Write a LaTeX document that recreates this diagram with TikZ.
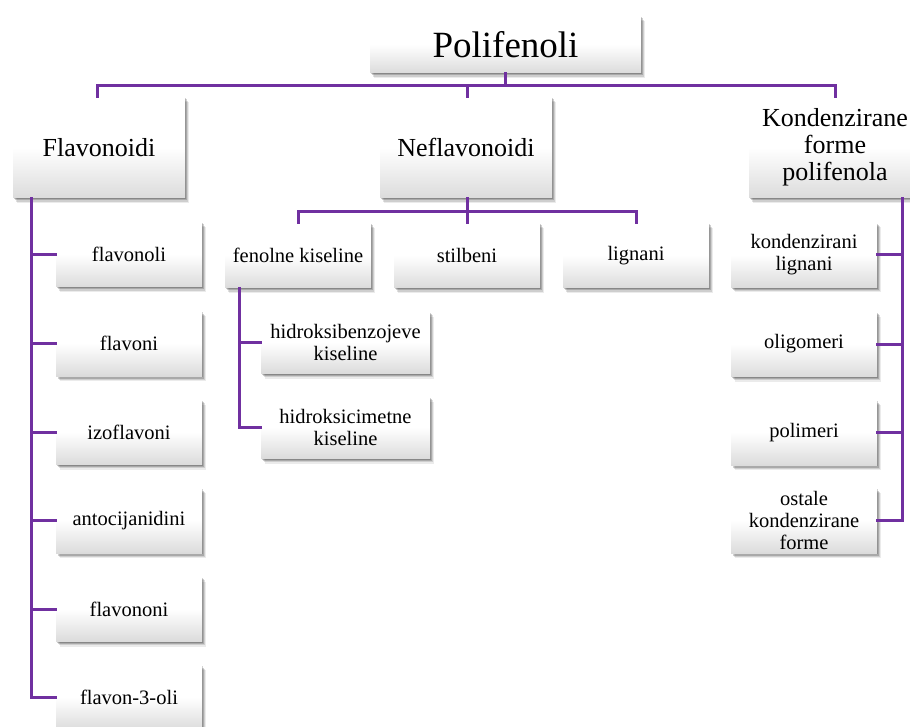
\documentclass[tikz,border=0pt]{standalone}
\usepackage{fontspec}
\setmainfont{Liberation Serif}
\usetikzlibrary{shadows}
\definecolor{lnpurple}{HTML}{7030A0}
\tikzset{
  box/.style={draw=none, top color=white, bottom color=black!14, middle color=white,
    drop shadow={shadow xshift=3.5pt, shadow yshift=-5pt, opacity=0.08, fill=black},
    drop shadow={shadow xshift=2.5pt, shadow yshift=-3.8pt, opacity=0.12, fill=black},
    drop shadow={shadow xshift=1.5pt, shadow yshift=-2.5pt, opacity=0.18, fill=black},
    drop shadow={shadow xshift=0.7pt, shadow yshift=-1.2pt, opacity=0.2, fill=black},
    inner sep=0pt, align=center, text=black},
  bigbox/.style={box, minimum width=271pt, minimum height=57pt, font=\fontsize{37}{40}\selectfont},
  midbox/.style={box, minimum width=172pt, minimum height=101pt, font=\fontsize{26}{27}\selectfont},
  smallbox/.style={box, minimum width=146pt, minimum height=65pt, font=\fontsize{20.5}{22}\selectfont},
  widebox/.style={smallbox, minimum width=169pt, minimum height=62pt},
  conn/.style={draw=lnpurple, line width=3pt, line cap=rect}
}
\begin{document}
\begin{tikzpicture}[x=1pt,y=-1pt]
\useasboundingbox (0,0) rectangle (910,727);
% nodes
\node[bigbox] (root) at (505.5,44.5) {Polifenoli};
\node[midbox] (flav) at (99,147.5) {Flavonoidi};
\node[midbox] (nefl) at (466,147.5) {Neflavonoidi};
\node[midbox] (kond) at (835,147.5) {Kondenzirane\\forme\\polifenola};

\node[smallbox] (f1) at (129,254.5) {flavonoli};
\node[smallbox] (f2) at (129,343.5) {flavoni};
\node[smallbox] (f3) at (129,432) {izoflavoni};
\node[smallbox] (f4) at (129,520.5) {antocijanidini};
\node[smallbox] (f5) at (129,609) {flavononi};
\node[smallbox] (f6) at (129,697.5) {flavon-3-oli};

\node[smallbox] (n1) at (298,255.5) {fenolne kiseline};
\node[smallbox] (n2) at (467,255.5) {stilbeni};
\node[smallbox] (n3) at (636,255.5) {lignani};

\node[widebox] (h1) at (345.5,342.5) {hidroksibenzojeve\\kiseline};
\node[widebox] (h2) at (345.5,427.5) {hidroksicimetne\\kiseline};

\node[smallbox] (k1) at (804,255) {kondenzirani\\lignani};
\node[smallbox] (k2) at (804,344) {oligomeri};
\node[smallbox] (k3) at (804,432.5) {polimeri};
\node[smallbox] (k4) at (804,520.5) {ostale\\kondenzirane\\forme};

% helper coordinates
\coordinate (topbus) at (0,86);
\coordinate (nbus) at (0,211.5);
\coordinate (flavx) at (31,0);
\coordinate (fenx) at (239,0);
\coordinate (kondx) at (902,0);

% top level connectors
\draw[conn] (root.south) -- (root.south |- topbus);
\draw[conn] (flav.north -| 97,0) -- (97,86) -- (835,86) -- (kond.north);
\draw[conn] (nefl.north -| 467,0) -- (467,86);

% Flavonoidi children
\draw[conn] (flav.south -| flavx) -- (f6.west -| flavx) -- (f6.west);
\foreach \n in {f1,f2,f3,f4,f5}{
  \draw[conn] (\n.west -| flavx) -- (\n.west);
}

% Neflavonoidi children
\draw[conn] (nefl.south -| n2.north) -- (n2.north);
\draw[conn] (n1.north) -- (n1.north |- nbus) -- (n3.north |- nbus) -- (n3.north);

% fenolne kiseline children
\draw[conn] (n1.south -| fenx) -- (h2.west -| fenx) -- (h2.west);
\draw[conn] (h1.west -| fenx) -- (h1.west);

% Kondenzirane children
\draw[conn] (kond.south -| kondx) -- (k4.east -| kondx) -- (k4.east);
\foreach \n in {k1,k2,k3}{
  \draw[conn] (\n.east -| kondx) -- (\n.east);
}
\end{tikzpicture}
\end{document}
